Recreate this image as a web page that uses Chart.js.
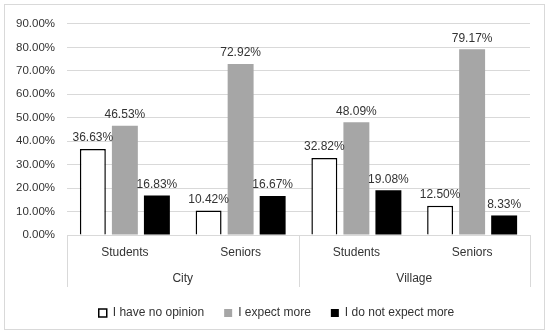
<!DOCTYPE html>
<html>
<head>
<meta charset="utf-8">
<script src="https://cdn.jsdelivr.net/npm/chart.js@4/dist/chart.umd.min.js"></script>
<style>
  body { margin: 0; background: #fff; }
  #box { position: absolute; left: 4px; top: 4px; width: 541px; height: 326px;
         border: 1px solid #d9d9d9; box-sizing: border-box; }
</style>
</head>
<body>
<div id="box"><canvas id="chart"></canvas></div>
<script>
// groups / categories
const groups = ["City", "Village"];
const categories = ["Students", "Seniors", "Students", "Seniors"];
// series values (%)
const noOpinion = [36.63, 10.42, 32.82, 12.50];
const expectMore = [46.53, 72.92, 48.09, 79.17];
const notExpectMore = [16.83, 16.67, 19.08, 8.33];
const seriesNames = ["I have no opinion", "I expect more", "I do not expect more"];

const textColor = "#333";
const gridColor = "#d9d9d9";
const fontFam = "'Liberation Sans', Arial, sans-serif";

/** ghi giá trị lên đầu cột */
const valueLabels = {
    id: "valueLabels",
    afterDatasetsDraw(chart) {
        const ctx = chart.ctx;
        ctx.save();
        ctx.font = "12px " + fontFam;
        ctx.fillStyle = textColor;
        ctx.textAlign = "center";
        ctx.textBaseline = "bottom";
        chart.data.datasets.forEach((ds, i) => {
            chart.getDatasetMeta(i).data.forEach((bar, j) => {
                ctx.fillText(ds.data[j].toFixed(2) + "%", bar.x, bar.y - 5);
            });
        });
        ctx.restore();
    }
};

/** đường phân cách nhóm City / Village */
const groupLines = {
    id: "groupLines",
    afterLayout(chart) {
        // dịch chú thích sang phải cho cân giữa
        chart.legend.left += 9;
        chart.legend.right += 9;
    },
    afterDraw(chart) {
        const x = chart.scales.x, x2 = chart.scales.x2;
        const ctx = chart.ctx;
        const mid = (x.getPixelForValue(1) + x.getPixelForValue(2)) / 2;
        ctx.save();
        ctx.strokeStyle = gridColor;
        ctx.lineWidth = 1;
        [x.left, mid, x.right].forEach(px => {
            const p = Math.round(px) + 0.5;
            ctx.beginPath();
            ctx.moveTo(p, chart.chartArea.bottom);
            ctx.lineTo(p, x2.bottom);
            ctx.stroke();
        });
        ctx.restore();
    }
};

new Chart("chart", {
    type: "bar",
    data: {
        labels: categories,
        datasets: [{
            label: seriesNames[0],
            data: noOpinion,
            backgroundColor: "#ffffff",
            borderColor: "#000000",
            borderWidth: 1.5
        }, {
            label: seriesNames[1],
            data: expectMore,
            backgroundColor: "#a6a6a6"
        }, {
            label: seriesNames[2],
            data: notExpectMore,
            backgroundColor: "#000000"
        }]
    },
    options: {
        responsive: true,
        maintainAspectRatio: false,
        animation: false,
        layout: { padding: { top: 16, right: 14, left: 0, bottom: 0 } },
        datasets: { bar: { categoryPercentage: 0.83, barPercentage: 0.81 } },
        plugins: {
            tooltip: { enabled: false },
            legend: {
                position: "bottom",
                labels: {
                    color: textColor,
                    font: { family: fontFam, size: 12 },
                    boxWidth: 8,
                    boxHeight: 8,
                    padding: 20
                }
            }
        },
        scales: {
            y: {
                min: 0,
                max: 90,
                ticks: {
                    stepSize: 10,
                    padding: 12,
                    color: textColor,
                    font: { family: fontFam, size: 11.5 },
                    callback: v => v.toFixed(2) + "%"
                },
                grid: { color: gridColor, drawTicks: false },
                border: { display: false },
                afterFit: s => { s.width = 62; }
            },
            x: {
                grid: { display: false, drawTicks: false },
                border: { display: false },
                ticks: { padding: 10, color: textColor, font: { family: fontFam, size: 12 } },
                afterFit: s => { s.height = 26; }
            },
            x2: {
                type: "category",
                position: "bottom",
                labels: groups,
                offset: true,
                grid: { display: false, drawTicks: false },
                border: { display: false },
                ticks: { padding: 10, color: textColor, font: { family: fontFam, size: 12 } },
                afterFit: s => { s.height = 26; }
            }
        }
    },
    plugins: [valueLabels, groupLines]
});
</script>
</body>
</html>
